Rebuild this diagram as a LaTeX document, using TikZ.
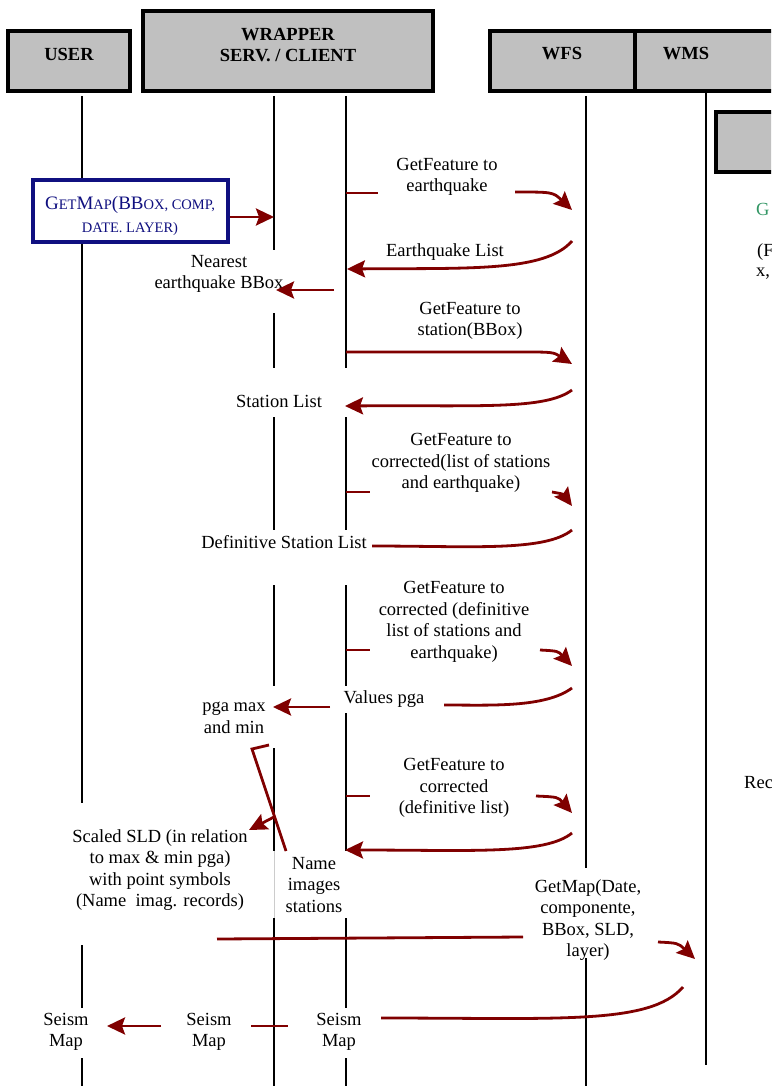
\documentclass[tikz,border=0pt]{standalone}
\usepackage{fontspec}
\setmainfont{Liberation Serif}
\usetikzlibrary{arrows.meta}
\definecolor{hdgray}{RGB}{192,192,192}
\definecolor{msgred}{RGB}{128,0,0}
\definecolor{mapblue}{RGB}{16,16,128}
\definecolor{wmsgreen}{RGB}{50,150,100}
\tikzset{
  hdr/.style={draw, line width=3.2pt, fill=hdgray, inner sep=0pt},
  htxt/.style={font=\bfseries\fontsize{18.5}{21}\selectfont, align=center, inner sep=0pt},
  mtxt/.style={font=\fontsize{18.5}{21.6}\selectfont, align=center, inner sep=0pt},
  lane/.style={line width=1.7pt},
  wire/.style={draw=msgred, line width=2.8pt},
  call/.style={wire, -{Stealth[length=18pt, width=17pt, inset=3pt]}}
}
\newcommand{\smc}[1]{{\fontsize{14.5}{16}\selectfont #1}}

\begin{document}
\begin{tikzpicture}[x=1pt, y=-1pt]
	\useasboundingbox (0,0) rectangle (771,1086);
	\clip (0,0) rectangle (771,1086);
	% headers
	\node[hdr, minimum width=122, minimum height=60] (user) at (69,61) {};
	\node[hdr, minimum width=290, minimum height=80] (wrap) at (288,51) {};
	\node[hdr, minimum width=145, minimum height=60] (wfs) at (562.5,61) {};
	\node[hdr, minimum width=155, minimum height=60] (wms) at (712.5,61) {};
	\node[hdr, minimum width=74, minimum height=60] (recbox) at (753,142) {};
	\node[htxt] at (69,54) {USER};
	\node[htxt] at (288,45) {WRAPPER\\SERV. / CLIENT};
	\node[htxt] at (562,54) {WFS};
	\node[htxt] at (686,54) {WMS};
	% life lines
	\foreach \x/\a/\b in {82/96/180, 82/242/803, 82/945/1008, 82/1058/1086,
		274/96/250, 274/313/368, 274/417/530, 274/585/686, 274/748/851, 274/918/1086,
		346/96/368, 346/417/530, 346/585/686, 346/713/851, 346/918/1008, 346/1058/1086,
		586/96/868, 586/958/1086, 706/91/1065}
		\draw[lane] (\x,\a) -- (\x,\b);
	\draw[gray!40, line width=0.6pt] (274,851) -- (274,918);
	% request box
	\node[draw=mapblue, line width=3.4pt, fill=white, minimum width=195, minimum height=62] (getmap) at (130.5,211) {};
	\node[mtxt, text=mapblue, font=\fontsize{19}{23}\selectfont] at (130,216) {G\smc{ET}M\smc{AP}(BB\smc{OX, COMP,}\\\smc{DATE. LAYER)}};
	% texts
	\node[mtxt] (q1) at (447,177) {GetFeature to\\earthquake};
	\node[mtxt] (r1) at (445,252) {Earthquake List};
	\node[mtxt] (nbb) at (219,274) {Nearest\\earthquake BBox};
	\node[mtxt] (q2) at (470,321) {GetFeature to\\station(BBox)};
	\node[mtxt] (r2) at (279,401) {Station List};
	\node[mtxt] (q3) at (461,463) {GetFeature to\\corrected(list of stations\\and earthquake)};
	\node[mtxt] (r3) at (284,542) {Definitive Station List};
	\node[mtxt] (q4) at (454,622) {GetFeature to\\corrected (definitive\\list of stations and\\earthquake)};
	\node[mtxt] (r4) at (384,699) {Values pga};
	\node[mtxt] (pga) at (234,718) {pga max\\and min};
	\node[mtxt] (q5) at (454,788) {GetFeature to\\corrected\\(definitive list)};
	\node[mtxt] (sld) at (160,870) {Scaled SLD (in relation\\to max \& min pga)\\with point symbols\\(Name\ \ imag. records)};
	\node[mtxt] (nis) at (314,885) {Name\\images\\stations};
	\node[mtxt] (gm) at (588,920) {GetMap(Date,\\componente,\\BBox, SLD,\\layer)};
	\node[mtxt] (sm1) at (66,1032) {Seism\\Map};
	\node[mtxt] (sm2) at (209,1032) {Seism\\Map};
	\node[mtxt] (sm3) at (339,1032) {Seism\\Map};
	\node[mtxt, anchor=west, text=wmsgreen] (wg) at (756,209) {G};
	\node[mtxt, anchor=west] (wf) at (757,252) {(F};
	\node[mtxt, anchor=west] (wx) at (756,274) {x,};
	\node[mtxt, anchor=west] (wr) at (744,783) {Rec};
	% end points
	\coordinate (a1) at (274,217);
	\coordinate (b1) at (346,193); \coordinate (b2) at (378,193);
	\coordinate (b3) at (515,192); \coordinate (b4) at (572,210);
	\coordinate (c1) at (572,241); \coordinate (c2) at (347,269);
	\coordinate (d1) at (334,290); \coordinate (d2) at (276,290);
	\coordinate (e1) at (346,352); \coordinate (e2) at (572,364);
	\coordinate (f1) at (572,390); \coordinate (f2) at (345,406);
	\coordinate (g1) at (346,492); \coordinate (g2) at (370,492);
	\coordinate (g3) at (552,492); \coordinate (g4) at (572,506);
	\coordinate (h1) at (572,530); \coordinate (h2) at (372,546);
	\coordinate (i1) at (346,650); \coordinate (i2) at (370,650);
	\coordinate (i3) at (540,650); \coordinate (i4) at (572,666);
	\coordinate (j1) at (572,688); \coordinate (j2) at (444,705);
	\coordinate (j3) at (330,707); \coordinate (j4) at (273,707);
	\coordinate (k1) at (346,796); \coordinate (k2) at (370,796);
	\coordinate (k3) at (536,796); \coordinate (k4) at (572,813);
	\coordinate (l1) at (572,833); \coordinate (l2) at (345,850);
	\coordinate (m1) at (269,745); \coordinate (m2) at (252,749); \coordinate (m3) at (286,851);
	\coordinate (n1) at (274,817); \coordinate (n2) at (249,830);
	\coordinate (o1) at (217,939); \coordinate (o2) at (523,937);
	\coordinate (o3) at (658,942); \coordinate (o4) at (695,959);
	\coordinate (p1) at (683,987); \coordinate (p2) at (381,1018);
	\coordinate (s1) at (161,1026); \coordinate (s2) at (107,1026);
	\coordinate (s3) at (251,1026); \coordinate (s4) at (288,1026);
	% messages
	\draw[call] (getmap.east |- a1) -- (a1);
	\draw[wire] (b1) -- (b2);
	\draw[call] (b3) .. controls (553,192) .. (b4);
	\draw[call] (c1) .. controls (545,272) and (470,268) .. (c2);
	\draw[call] (d1) -- (d2);
	\draw[call] (e1) -- (520,352) .. controls (553,352) .. (e2);
	\draw[call] (f1) .. controls (545,410) and (480,405) .. (f2);
	\draw[wire] (g1) -- (g2);
	\draw[call] (g3) .. controls (563,494) .. (g4);
	\draw[wire] (h1) .. controls (545,552) and (470,546) .. (h2);
	\draw[wire] (i1) -- (i2);
	\draw[call] (i3) .. controls (558,651) .. (i4);
	\draw[wire] (j1) .. controls (545,708) and (490,705) .. (j2);
	\draw[call] (j3) -- (j4);
	\draw[wire] (k1) -- (k2);
	\draw[call] (k3) .. controls (558,797) .. (k4);
	\draw[call] (l1) .. controls (545,855) and (470,850) .. (l2);
	\draw[wire] (m1) -- (m2) -- (m3);
	\draw[call] (n1) -- (n2);
	\draw[wire] (o1) -- (o2);
	\draw[call] (o3) .. controls (678,943) .. (o4);
	\draw[wire] (p1) .. controls (650,1025) and (560,1018) .. (p2);
	\draw[call] (s1) -- (s2);
	\draw[wire] (s3) -- (s4);
\end{tikzpicture}
\end{document}
